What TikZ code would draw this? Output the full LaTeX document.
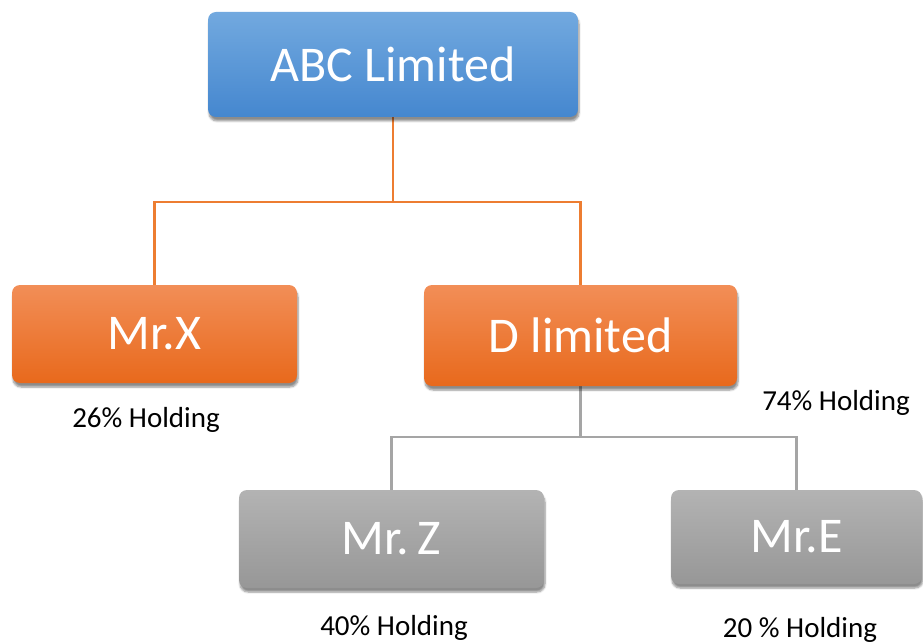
\documentclass[tikz,border=0pt]{standalone}
\usepackage{fontspec}
\setmainfont{Carlito}
\usetikzlibrary{shadows.blur,backgrounds}
\definecolor{blueT}{HTML}{72A9DF}
\definecolor{blueB}{HTML}{4587CF}
\definecolor{orT}{HTML}{F28E57}
\definecolor{orB}{HTML}{E8691C}
\definecolor{grT}{HTML}{B3B3B3}
\definecolor{grB}{HTML}{979797}
\definecolor{orLine}{HTML}{ED7D31}
\definecolor{grLine}{HTML}{A5A5A5}
\tikzset{
  box/.style={rounded corners=8pt, inner sep=0pt, text=white,
    font=\fontsize{50}{60}\selectfont,
    blur shadow={shadow blur steps=6, shadow xshift=1pt, shadow yshift=-4pt, shadow opacity=45}},
  bluebox/.style={box, top color=blueT, bottom color=blueB},
  orbox/.style={box, top color=orT, bottom color=orB},
  grbox/.style={box, top color=grT, bottom color=grB},
  lbl/.style={font=\fontsize{29}{35}\selectfont, text=black, inner sep=0pt},
  orconn/.style={draw=orLine, line width=2.5pt},
  grconn/.style={draw=grLine, line width=2.5pt}
}
\begin{document}
\begin{tikzpicture}[x=1pt,y=-1pt]
\useasboundingbox (0,0) rectangle (923,644);
\node[bluebox, minimum width=370pt, minimum height=105pt] (abc) at (393,64.5) {ABC Limited};
\node[orbox, minimum width=285pt, minimum height=98pt] (mrx) at (154.5,334) {Mr.X};
\node[orbox, minimum width=313pt, minimum height=101pt] (dl) at (580.5,335.5) {D limited};
\node[grbox, minimum width=305pt, minimum height=98pt] (mrz) at (391.5,539) {Mr.\,Z};
\node[grbox, minimum width=251pt, minimum height=94pt] (mre) at (796.5,537) {Mr.E};
\node[lbl] (lx) at (146,420) {26\% Holding};
\node[lbl] (ld) at (836,403) {74\% Holding};
\node[lbl] (lz) at (394,628) {40\% Holding};
\node[lbl] (le) at (800,630) {20 \% Holding};
\coordinate (j1) at (393,202);
\coordinate (j2) at (580.5,437);
\begin{scope}[on background layer]
\draw[orconn] (abc.south) -- (j1);
\draw[orconn] (j1) -| (mrx.north);
\draw[orconn] (j1) -| (dl.north);
\draw[grconn] (dl.south) -- (j2);
\draw[grconn] (j2) -| (mrz.north);
\draw[grconn] (j2) -| (mre.north);
\end{scope}
\end{tikzpicture}
\end{document}
